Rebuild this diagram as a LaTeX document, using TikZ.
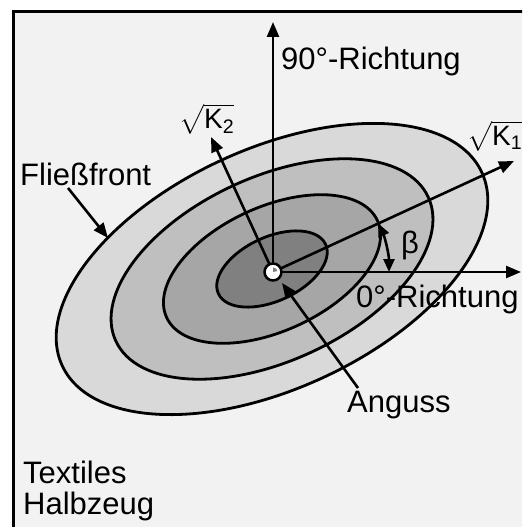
\documentclass[tikz,border=0pt]{standalone}
\usepackage{fontspec}
\usepackage{amsmath}
\setmainfont{Liberation Sans}
\usetikzlibrary{arrows.meta}
\definecolor{bgc}{HTML}{F2F2F2}
\definecolor{eone}{HTML}{D9D9D9}
\definecolor{etwo}{HTML}{BFBFBF}
\definecolor{ethree}{HTML}{A6A6A6}
\definecolor{efour}{HTML}{808080}
\tikzset{
  ell/.style={draw=black, line width=2.8pt},
  arr/.style={line width=2.6pt, -{Triangle[length=15pt,width=12pt]}},
  darr/.style={line width=2.6pt, {Triangle[length=13pt,width=11pt]}-{Triangle[length=13pt,width=11pt]}},
  lbl/.style={anchor=base west, inner sep=0pt, font=\fontsize{31}{31}\selectfont},
  klbl/.style={anchor=base west, inner sep=0pt, font=\fontsize{28}{28}\selectfont},
}
\begin{document}
\begin{tikzpicture}[x=1pt,y=1pt]
\useasboundingbox (0,0) rectangle (522,-527);
\clip (0,0) rectangle (522,-527);
\draw[line width=3pt, fill=bgc] (13,-12) rectangle (545,-545);
\coordinate (E) at (272,-269);
\coordinate (C) at (273,-272);
\filldraw[ell, fill=eone, rotate around={24.7:(E)}] (E) ellipse [x radius=231pt, y radius=120pt];
\filldraw[ell, fill=etwo, rotate around={24.7:(E)}] (E) ellipse [x radius=172pt, y radius=92pt];
\filldraw[ell, fill=ethree, rotate around={24.7:(E)}] (E) ellipse [x radius=116pt, y radius=62pt];
\filldraw[ell, fill=efour, rotate around={24.7:(E)}] (E) ellipse [x radius=59pt, y radius=32pt];
\coordinate (up) at (273,-22);
\coordinate (right) at (521,-272);
\coordinate (kone) at (514,-161);
\coordinate (ktwo) at (211,-137);
\draw[arr] (C) -- (up);
\draw[arr] (C) -- (right);
\draw[arr] (C) -- (kone);
\draw[arr] (C) -- (ktwo);
\draw[darr] (C) ++(0:116) arc[start angle=0, end angle=24.7, radius=116];
\node[circle, draw, fill=white, line width=2.5pt, minimum size=17pt, inner sep=0pt] (hub) at (C) {};
\fill[efour] (C) -- ++(12:4.5) arc[start angle=12, end angle=88, radius=4.5] -- cycle;
\node[lbl] (t90) at (281,-70) {90°-Richtung};
\node[lbl] (t0) at (356,-307) {0°-Richtung};
\node[lbl] (tb) at (401,-253) {β};
\node[lbl] (tff) at (20,-185) {Fließfront};
\node[lbl] (tan) at (347,-412) {Anguss};
\node[lbl] (tt1) at (23,-483) {Textiles};
\node[lbl] (tt2) at (23,-514) {Halbzeug};
\node[klbl] (ktwolbl) at (179,-128) {$\sqrt{\text{K}_{\text{2}}}$};
\node[klbl] (konelbl) at (467,-145) {$\sqrt{\text{K}_{\text{1}}}$};
\coordinate (ffs) at (68,-188);
\coordinate (ffe) at (108,-238);
\draw[arr] (ffs) -- (ffe);
\coordinate (ans) at (358,-388);
\coordinate (ane) at (282,-283);
\draw[arr] (ans) -- (ane);
\end{tikzpicture}
\end{document}
